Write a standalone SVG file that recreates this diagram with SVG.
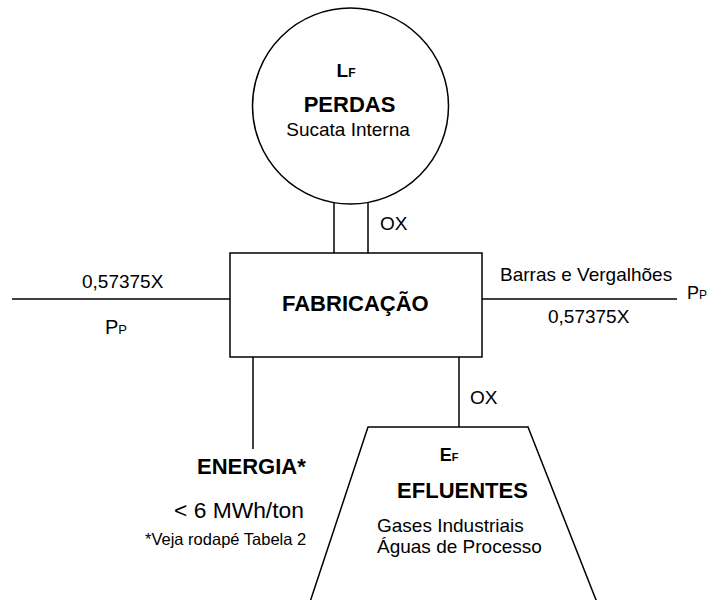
<svg xmlns="http://www.w3.org/2000/svg" width="711" height="600" viewBox="0 0 711 600">
<style>
.s{fill:none;stroke:#000;stroke-width:1.5}
.n{fill:#fff;stroke:#000;stroke-width:1.5}
text{font-family:"Liberation Sans",Arial,sans-serif;fill:#000}
.r{font-size:19px}
.b{font-size:22px;font-weight:bold}
.sm{font-size:16.5px}
</style>
<rect width="711" height="600" fill="#fff"/>
<g id="connectors">
<line class="s" x1="12" y1="299" x2="230" y2="299"/>
<line class="s" x1="482" y1="299" x2="677" y2="299"/>
<line class="s" x1="334" y1="202" x2="334" y2="253"/>
<line class="s" x1="368" y1="202" x2="368" y2="253"/>
<line class="s" x1="253" y1="357" x2="253" y2="449"/>
<line class="s" x1="459" y1="357" x2="459" y2="427"/>
</g>
<g id="perdas">
<circle class="n" cx="350.5" cy="106" r="98"/>
<text x="346" y="77" text-anchor="middle" font-weight="bold"><tspan font-size="19">L</tspan><tspan font-size="12">F</tspan></text>
<text class="b" x="349.5" y="112" text-anchor="middle">PERDAS</text>
<text class="r" x="348" y="136" text-anchor="middle">Sucata Interna</text>
</g>
<g id="fabricacao">
<rect class="n" x="230" y="253" width="252" height="104"/>
<text class="b" x="282" y="311">FABRICAÇÃO</text>
</g>
<g id="efluentes">
<polygon class="n" points="368,427 528,427 598,605 309,605"/>
<text x="449" y="461" text-anchor="middle" font-weight="bold"><tspan font-size="18">E</tspan><tspan font-size="11">F</tspan></text>
<text class="b" x="462.5" y="498" text-anchor="middle">EFLUENTES</text>
<text class="r" x="377" y="532">Gases Industriais</text>
<text class="r" x="377" y="553">Águas de Processo</text>
</g>
<g id="energia">
<text class="b" x="197" y="474">ENERGIA*</text>
<text x="174" y="518" font-size="22.8">&lt; 6 MWh/ton</text>
<text class="sm" x="145" y="545">*Veja rodapé Tabela 2</text>
</g>
<g id="labels">
<text class="r" x="380" y="230">OX</text>
<text class="r" x="470" y="404">OX</text>
<text class="r" x="82" y="288">0,57375X</text>
<text x="105" y="334"><tspan font-size="20">P</tspan><tspan font-size="13">P</tspan></text>
<text class="r" x="500" y="281">Barras e Vergalhões</text>
<text class="r" x="548" y="323">0,57375X</text>
<text x="687" y="299"><tspan font-size="18">P</tspan><tspan font-size="12">P</tspan></text>
</g>
</svg>
